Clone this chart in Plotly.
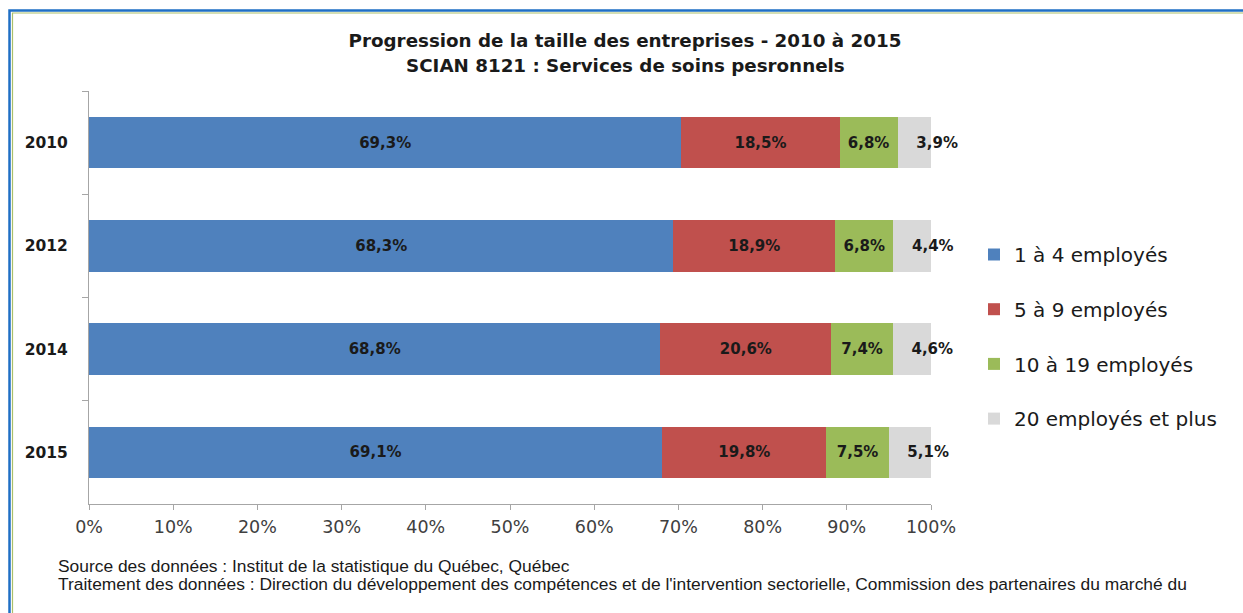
import plotly.graph_objects as go

years = ["2010", "2012", "2014", "2015"]
series_names = ["1 à 4 employés", "5 à 9 employés", "10 à 19 employés", "20 employés et plus"]
s1 = [69.3, 68.3, 68.8, 69.1]
s2 = [18.5, 18.9, 20.6, 19.8]
s3 = [6.8, 6.8, 7.4, 7.5]
s4 = [3.9, 4.4, 4.6, 5.1]
colors = ["#4F81BD", "#C0504D", "#9BBB59", "#D9D9D9"]
x_ticks = list(range(0, 101, 10))
x_ticklabels = [f"{v}%" for v in x_ticks]
title_lines = ["Progression de la taille des entreprises - 2010 à 2015",
               "SCIAN 8121 : Services de soins pesronnels"]
notes = ["Source des données : Institut de la statistique du Québec, Québec",
         "Traitement des données : Direction du développement des compétences et de l'intervention sectorielle, Commission des partenaires du marché du"]

W, H = 1243, 613
L, R, T, B = 89, 931, 91, 504

def fmt(v, pad=0):
    return "\u00a0" * pad + f"{v:.1f}%".replace(".", ",")

fig = go.Figure()
for i, (name, vals, col) in enumerate(zip(series_names, [s1, s2, s3, s4], colors)):
    last = i == 3
    fig.add_trace(go.Bar(
        y=years, x=vals, name=name, orientation="h",
        marker=dict(color=col, line=dict(width=0)),
        text=[fmt(v, 3 if last else 0) for v in vals],
        textposition="inside", insidetextanchor="start" if last else "middle", textangle=0,
        constraintext="none", cliponaxis=False,
        textfont=dict(family="DejaVu Sans", size=15, color="#1a1a1a", weight="bold"),
        legendgroup=f"g{i}",
    ))

def px_x(p):
    return (p - L) / (R - L)

def px_y(p):
    return (B - p) / (B - T)

title_font = dict(family="DejaVu Sans", size=18.3, color="#1a1a1a", weight="bold")

fig.update_layout(
    width=W, height=H,
    margin=dict(l=L, r=W - R, t=T, b=H - B, pad=0),
    barmode="stack", barnorm="percent", bargap=0.5,
    plot_bgcolor="white", paper_bgcolor="white",
    showlegend=True,
    legend=dict(x=px_x(974), xanchor="left", y=px_y(235), yanchor="top",
                font=dict(family="DejaVu Sans", size=20, color="#1a1a1a"),
                traceorder="grouped", tracegroupgap=25.7, itemwidth=30,
                bgcolor="rgba(0,0,0,0)"),
    title=dict(text=title_lines[0],
               x=625 / W, xanchor="center", xref="container",
               y=1 - 41 / H, yanchor="middle", yref="container",
               font=title_font),
    xaxis=dict(range=[0, 100], tickvals=x_ticks, ticktext=x_ticklabels,
               showgrid=False, zeroline=False, showline=True, linecolor="#A6A6A6", linewidth=1,
               ticks="outside", ticklen=5, tickcolor="#A6A6A6", ticklabelstandoff=2,
               tickfont=dict(family="DejaVu Sans", size=17.5, color="#404040")),
    yaxis=dict(categoryorder="array", categoryarray=years, autorange="reversed",
               showgrid=False, zeroline=False, showline=True, linecolor="#A6A6A6", linewidth=1,
               ticks="outside", ticklen=6, tickcolor="#A6A6A6", tickson="boundaries",
               ticklabelstandoff=17,
               tickfont=dict(family="DejaVu Sans", size=15.5, color="#1a1a1a", weight="bold")),
    font=dict(family="DejaVu Sans"),
)

fig.add_annotation(
    text=title_lines[1], xref="paper", yref="paper", x=px_x(625), y=px_y(65),
    xanchor="center", yanchor="middle", showarrow=False, font=title_font,
)

for line, ypx in zip(notes, [566, 584]):
    fig.add_annotation(
        text=line, xref="paper", yref="paper", x=px_x(56), y=px_y(ypx),
        xanchor="left", yanchor="middle", align="left", showarrow=False,
        font=dict(family="Liberation Sans", size=17.4, color="#1a1a1a"),
    )

# frame
fig.add_shape(type="rect", xref="paper", yref="paper",
              x0=px_x(9.5), x1=px_x(1260), y0=px_y(630), y1=px_y(10.5),
              line=dict(color="#1F6FC5", width=2.5), fillcolor="rgba(0,0,0,0)", layer="above")
fig.add_shape(type="rect", xref="paper", yref="paper",
              x0=px_x(12.5), x1=px_x(1260), y0=px_y(630), y1=px_y(13),
              line=dict(color="#A9BF6A", width=1.2), fillcolor="rgba(0,0,0,0)", layer="above")

fig.write_html("out.html", config={"displayModeBar": False},
               post_script="document.body.style.margin='0';document.body.style.overflow='hidden';")
